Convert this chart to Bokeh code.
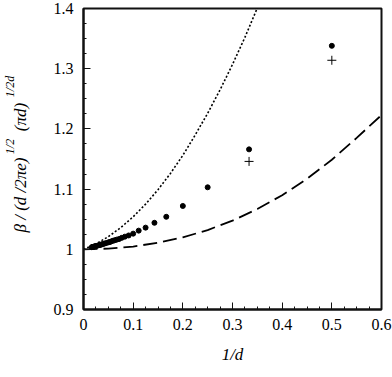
import math
from bokeh.plotting import figure
from bokeh.models import (Range1d, FixedTicker, CustomJSTickFormatter, LinearAxis)
from bokeh.embed import file_html
from bokeh.resources import INLINE

# dimension d of the dots (x = 1/d)
d_values = [2, 3, 4, 5, 6, 7, 8, 9, 10, 11, 12, 13, 14, 15, 16, 17, 18, 19, 20,
            22, 24, 26, 28, 30, 32, 36, 40, 44, 48, 52, 56, 60]
ratio_values = [1.338, 1.166, 1.103, 1.072, 1.054, 1.044, 1.036, 1.031, 1.026,
                1.023, 1.021, 1.019, 1.017, 1.016, 1.015, 1.014, 1.013, 1.012, 1.0115,
                1.0103, 1.0094, 1.0086, 1.0079, 1.0073, 1.0068, 1.0060, 1.0054,
                1.0049, 1.0044, 1.0041, 1.0038, 1.0035]

plus_d = [2, 3]
plus_values = [1.314, 1.146]

dotted_x = [0.0, 0.025, 0.05, 0.075, 0.1, 0.125, 0.15, 0.175, 0.2, 0.225, 0.25,
            0.275, 0.3, 0.325, 0.35]
dotted_y = [1.000, 1.009, 1.021, 1.036, 1.054, 1.075, 1.099, 1.126, 1.156, 1.190,
            1.226, 1.265, 1.307, 1.352, 1.401]

dashed_x = [0.0, 0.05, 0.1, 0.15, 0.2, 0.25, 0.3, 0.35, 0.4, 0.45, 0.5, 0.55, 0.6]
dashed_y = [1.0, 1.0011, 1.0046, 1.0108, 1.0198, 1.0320, 1.0476, 1.0668, 1.0899,
            1.1171, 1.1488, 1.1850, 1.2230]

x_ticks = [0.0, 0.1, 0.2, 0.3, 0.4, 0.5, 0.6]
x_tick_labels = ["0", "0.1", "0.2", "0.3", "0.4", "0.5", "0.6"]
y_ticks = [0.9, 1.0, 1.1, 1.2, 1.3, 1.4]
y_tick_labels = ["0.9", "1", "1.1", "1.2", "1.3", "1.4"]

# y-axis title pieces: main text and superscripts
ytitle_main = ["\u03b2 / (d /2\u03c0e)", "(\u03c0d)"]
ytitle_sup = ["1/2", "1/2d"]
ytitle_main_pos = [1.0902, 1.2198]
ytitle_sup_pos = [1.1708, 1.2704]

SERIF = "Liberation Serif"

p = figure(width=392, height=377, output_backend="svg", toolbar_location=None,
           x_range=Range1d(0, 0.6), y_range=Range1d(0.9, 1.4),
           min_border_left=80, min_border_right=11, min_border_top=8,
           min_border_bottom=68)
p.grid.visible = False
p.outline_line_color = "#111111"
p.outline_line_width = 2
p.background_fill_color = "white"
p.border_fill_color = "white"


def lookup_formatter(vals, labs):
    return CustomJSTickFormatter(args=dict(vals=vals, labs=labs), code="""
        for (let i = 0; i < vals.length; i++) {
            if (Math.abs(tick - vals[i]) < 1e-6) { return labs[i]; }
        }
        return '';
    """)


def minor_list(ticks):
    out = []
    for a, b in zip(ticks[:-1], ticks[1:]):
        step = (b - a) / 4
        out += [a + step * k for k in range(1, 4)]
    return out


p.xaxis.ticker = FixedTicker(ticks=x_ticks, minor_ticks=minor_list(x_ticks))
p.yaxis.ticker = FixedTicker(ticks=y_ticks, minor_ticks=minor_list(y_ticks))
p.xaxis.formatter = lookup_formatter(x_ticks, x_tick_labels)
p.yaxis.formatter = lookup_formatter(y_ticks, y_tick_labels)
for ax in (p.xaxis[0], p.yaxis[0]):
    ax.major_tick_in = 7
    ax.major_tick_out = 0
    ax.minor_tick_in = 3
    ax.minor_tick_out = 0
    ax.axis_line_width = 2
    ax.axis_line_color = "#111111"
    ax.major_tick_line_color = "#111111"
    ax.minor_tick_line_color = "#111111"
    ax.major_label_text_font = SERIF
    ax.major_label_text_font_size = "16px"
    ax.major_label_text_color = "black"
p.xaxis.major_label_standoff = 9
p.yaxis.major_label_standoff = 10

p.xaxis.axis_label = "1/d"
p.xaxis.axis_label_text_font = SERIF
p.xaxis.axis_label_text_font_style = "italic"
p.xaxis.axis_label_text_font_size = "17px"
p.xaxis.axis_label_text_color = "black"
p.xaxis.axis_label_standoff = 12

# y-axis title as tick labels of two bare axes (main line + superscripts)
for vals, labs, fs, standoff in ((ytitle_main_pos, ytitle_main, "17px", 20),
                                 (ytitle_sup_pos, ytitle_sup, "12px", -9)):
    ax = LinearAxis(ticker=FixedTicker(ticks=vals, minor_ticks=[]),
                    formatter=lookup_formatter(vals, labs),
                    axis_line_color=None, major_tick_line_color=None,
                    minor_tick_line_color=None,
                    major_tick_in=0, major_tick_out=0,
                    minor_tick_in=0, minor_tick_out=0,
                    major_label_orientation="vertical",
                    major_label_standoff=standoff,
                    major_label_text_font=SERIF,
                    major_label_text_font_style="italic",
                    major_label_text_font_size=fs,
                    major_label_text_line_height=1.0,
                    major_label_text_color="black")
    p.add_layout(ax, "left")

# curves
p.line(dotted_x, dotted_y, line_color="black", line_width=1.6, line_dash="2 2")
p.line(dashed_x, dashed_y, line_color="black", line_width=1.8, line_dash="14 6")

# points
p.scatter([1.0 / d for d in d_values], ratio_values, size=5, color="black")
p.scatter([1.0 / d for d in plus_d], plus_values, marker="cross", size=9,
          line_color="black", line_width=1)

open("out.html", "w").write(file_html(p, INLINE))
